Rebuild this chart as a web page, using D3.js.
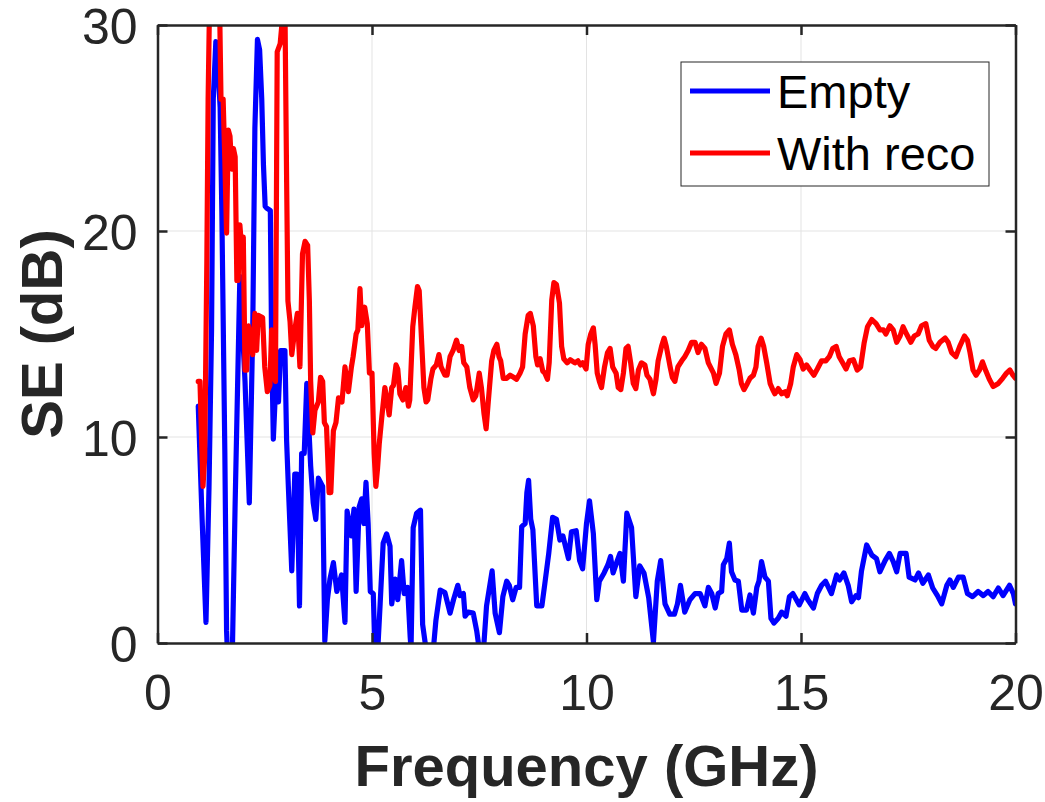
<!DOCTYPE html>
<html><head><meta charset="utf-8">
<script src="https://cdn.jsdelivr.net/npm/d3@7"></script>
<style>body{margin:0;background:#fff;} svg{display:block;}</style>
</head><body>
<svg id="chart" width="1045" height="802"></svg>
<script>
const xTicks = [0, 5, 10, 15, 20];
const yTicks = [0, 10, 20, 30];
const seriesNames = ["Empty", "With reco"];
const seriesColors = ["#0000ff", "#ff0000"];

const emptyFreq = [0.95,1.04,1.13,1.20,1.26,1.30,1.36,1.40,1.46,1.50,1.57,1.61,1.64,1.74,1.81,1.92,2.04,2.14,2.22,2.27,2.33,2.38,2.43,2.47,2.51,2.55,2.63,2.66,2.70,2.76,2.82,2.87,2.97,3.01,3.05,3.13,3.20,3.25,3.31,3.36,3.42,3.48,3.57,3.63,3.69,3.75,3.85,3.90,3.96,4.02,4.10,4.18,4.29,4.37,4.42,4.52,4.58,4.63,4.70,4.76,4.81,4.86,4.91,4.96,5.03,5.07,5.13,5.19,5.26,5.34,5.42,5.46,5.54,5.60,5.69,5.75,5.83,5.89,5.91,5.96,6.04,6.13,6.18,6.26,6.43,6.49,6.59,6.70,6.82,6.90,7.00,7.05,7.13,7.17,7.24,7.36,7.44,7.50,7.60,7.67,7.80,7.87,7.97,8.05,8.14,8.20,8.28,8.36,8.44,8.49,8.57,8.61,8.65,8.70,8.75,8.84,8.96,9.03,9.12,9.21,9.30,9.38,9.45,9.58,9.65,9.76,9.84,9.91,10.00,10.07,10.16,10.24,10.30,10.41,10.50,10.56,10.62,10.71,10.78,10.86,10.94,11.05,11.15,11.24,11.34,11.45,11.56,11.65,11.73,11.83,11.94,12.05,12.12,12.19,12.29,12.41,12.53,12.65,12.76,12.84,12.92,13.00,13.07,13.15,13.19,13.27,13.33,13.38,13.46,13.54,13.62,13.73,13.81,13.89,13.97,14.02,14.08,14.16,14.24,14.30,14.37,14.47,14.55,14.65,14.73,14.81,14.96,15.09,15.16,15.29,15.38,15.48,15.57,15.71,15.83,15.90,16.00,16.10,16.18,16.28,16.34,16.41,16.53,16.65,16.76,16.84,16.96,17.06,17.15,17.23,17.31,17.45,17.52,17.66,17.74,17.84,17.97,18.07,18.18,18.28,18.40,18.47,18.55,18.67,18.78,18.88,19.00,19.13,19.25,19.36,19.48,19.60,19.71,19.86,19.95,20.00];
const emptySE = [11.5,6.0,1.0,7.5,15.2,26.4,29.2,28.3,26.0,20.9,9.2,0.6,-1,-1,6.8,17.8,12.7,6.8,15.2,25.0,29.3,28.8,26.4,23.2,21.2,21.1,21.0,14.6,9.9,12.7,11.7,14.2,14.2,9.8,7.6,3.5,8.2,8.2,1.8,9.2,9.2,12.6,8.6,6.8,6.0,8.0,7.6,0.1,2.1,3.1,3.9,2.5,3.3,1.0,6.4,5.2,6.5,2.5,6.6,7.0,5.8,7.8,5.8,2.5,2.4,-0.5,-0.5,1.9,4.85,5.3,4.7,1.9,3.1,2.1,4.0,2.4,2.7,0.3,-0.3,5.6,6.3,6.45,0.9,-0.3,-0.3,1.1,2.57,2.45,1.45,2.1,2.8,2.3,2.4,1.3,1.5,1.45,0.6,-0.3,-0.3,1.8,3.5,1.45,0.5,2.25,3.0,2.8,2.1,2.7,2.7,5.65,5.8,7.3,7.9,6.0,5.5,1.8,1.8,2.9,4.35,6.1,6.0,5.0,5.2,4.1,5.4,5.45,4.0,3.6,5.8,6.9,5.3,2.1,3.0,3.4,3.8,4.2,3.4,3.95,4.35,3.0,6.3,5.6,2.25,3.75,3.4,2.2,0.05,3.0,4.0,1.9,1.4,1.4,1.9,2.8,1.5,2.1,2.4,2.4,1.8,2.7,2.4,1.7,2.4,2.5,3.8,4.1,4.85,3.46,3.06,3.0,1.6,1.6,2.33,1.45,2.7,3.0,3.95,3.2,3.0,1.2,0.97,1.2,1.5,1.3,2.25,2.4,1.85,2.4,2.1,1.7,2.4,2.8,3.0,2.4,3.3,3.06,3.4,2.8,2.0,2.3,2.2,3.5,4.76,4.27,4.1,3.46,4.0,4.35,3.95,3.46,4.35,4.35,3.2,3.06,3.4,2.9,3.3,2.67,2.3,1.9,2.8,3.06,2.7,3.2,3.2,2.4,2.25,2.5,2.3,2.5,2.25,2.67,2.3,2.8,2.4,1.9];

const recoFreq = [0.95,0.99,1.06,1.10,1.15,1.18,1.22,1.35,1.44,1.48,1.53,1.57,1.61,1.65,1.69,1.73,1.77,1.81,1.85,1.88,1.92,1.96,2.00,2.04,2.08,2.12,2.17,2.22,2.27,2.31,2.35,2.45,2.50,2.56,2.62,2.66,2.70,2.75,2.79,2.86,2.92,2.97,3.01,3.04,3.09,3.13,3.20,3.26,3.32,3.38,3.44,3.50,3.54,3.57,3.62,3.67,3.75,3.80,3.85,3.89,3.94,4.00,4.04,4.10,4.16,4.22,4.30,4.37,4.45,4.52,4.56,4.63,4.67,4.72,4.76,4.83,4.89,4.94,5.00,5.05,5.09,5.13,5.17,5.23,5.30,5.35,5.40,5.46,5.50,5.56,5.60,5.65,5.72,5.79,5.85,5.88,5.95,6.00,6.06,6.10,6.16,6.21,6.26,6.30,6.37,6.42,6.50,6.56,6.61,6.70,6.75,6.82,6.89,6.97,7.03,7.09,7.14,7.21,7.28,7.36,7.42,7.50,7.55,7.61,7.66,7.71,7.79,7.84,7.91,7.96,8.00,8.06,8.14,8.22,8.30,8.37,8.45,8.51,8.57,8.64,8.69,8.76,8.82,8.86,8.92,8.98,9.03,9.09,9.13,9.19,9.24,9.30,9.37,9.42,9.47,9.55,9.62,9.73,9.80,9.86,9.91,9.99,10.04,10.10,10.16,10.20,10.25,10.30,10.35,10.42,10.49,10.55,10.61,10.69,10.74,10.80,10.86,10.92,10.97,11.03,11.09,11.15,11.21,11.28,11.36,11.41,11.48,11.56,11.62,11.67,11.75,11.81,11.86,11.95,12.00,12.06,12.13,12.22,12.29,12.37,12.45,12.53,12.60,12.68,12.76,12.84,12.96,13.02,13.10,13.17,13.25,13.33,13.40,13.48,13.56,13.61,13.67,13.75,13.81,13.89,13.95,14.00,14.07,14.13,14.20,14.28,14.34,14.39,14.47,14.55,14.63,14.68,14.76,14.82,14.90,14.98,15.05,15.13,15.21,15.30,15.38,15.48,15.58,15.66,15.74,15.82,15.89,15.97,16.05,16.13,16.22,16.31,16.39,16.47,16.55,16.65,16.75,16.84,16.92,16.98,17.07,17.15,17.23,17.31,17.38,17.46,17.56,17.64,17.73,17.81,17.91,17.99,18.07,18.14,18.24,18.36,18.43,18.51,18.61,18.70,18.81,18.88,18.94,19.01,19.08,19.16,19.23,19.31,19.39,19.48,19.60,19.70,19.79,19.87,19.94,20.00];
const recoSE = [12.7,12.7,7.6,9.0,18.5,26.4,32,34,32,26.4,26.4,23.4,19.9,24.9,24.6,23.0,24.0,23.6,17.6,17.6,20.3,19.2,19.7,13.25,13.25,15.4,14.9,14.0,16.0,14.2,15.9,15.8,13.4,12.2,12.5,15.2,13.1,12.7,28.7,29.1,30.5,31,22.4,16.6,15.6,14.0,15.2,16.0,13.4,18.9,19.5,19.3,16.6,12.7,10.2,11.3,11.7,12.9,12.7,10.7,10.5,7.3,7.3,10.3,10.7,11.9,11.7,13.4,12.2,13.4,13.9,15.0,15.2,17.2,15.4,16.3,15.5,13.1,13.1,9.2,7.6,8.5,9.7,11.0,12.4,11.8,11.07,12.4,12.5,13.5,13.3,12.1,11.8,12.4,11.5,11.8,15.35,16.3,17.3,17.1,14.5,12.4,11.7,11.8,12.8,13.3,13.5,14.0,13.4,13.0,13.0,13.9,14.2,14.7,14.2,14.4,13.6,13.4,12.4,11.8,12.0,13.1,12.4,11.15,10.4,11.7,13.7,14.2,14.5,13.9,13.7,12.85,12.85,13.0,12.9,12.8,13.1,13.4,15.0,15.9,16.0,15.4,13.9,13.5,13.8,13.2,13.1,12.8,13.6,16.65,17.5,17.4,16.5,14.4,13.8,13.6,13.75,13.6,13.7,13.5,13.6,13.3,14.5,15.0,15.3,14.5,13.1,12.7,12.4,13.4,14.1,14.3,13.4,13.1,12.4,12.3,13.1,14.3,14.4,13.6,12.6,12.35,13.25,13.6,13.5,13.0,12.8,12.1,12.8,13.7,14.4,14.8,14.4,13.4,12.9,12.7,13.4,13.7,13.9,14.2,14.6,14.6,14.1,14.5,14.3,13.6,13.1,12.6,13.1,14.4,15.0,15.2,14.5,14.0,13.25,12.6,12.3,12.6,12.85,13.0,13.4,14.4,14.8,14.4,13.6,12.6,12.3,12.1,12.35,12.1,12.2,12.0,12.6,13.4,14.0,13.75,13.3,13.5,13.25,13.0,13.3,13.7,13.7,13.9,14.3,14.4,13.9,13.6,13.3,13.7,13.75,13.25,13.4,14.55,15.35,15.7,15.5,15.2,15.2,15.0,15.4,15.2,14.6,14.9,15.35,15.0,14.6,14.9,15.0,15.4,15.5,14.7,14.4,14.3,14.6,14.8,14.6,14.1,13.9,14.4,14.9,14.7,14.1,13.25,13.0,13.25,13.65,13.2,12.8,12.45,12.6,12.85,13.1,13.25,13.0,12.85];

const svg = d3.select("#chart");
const L = 157.5, R = 1015.5, T = 25, B = 643;
const x = d3.scaleLinear().domain([0, 20]).range([L, R]);
const y = d3.scaleLinear().domain([0, 30]).range([B, T]);
const axisColor = "#262626";
const font = "'Liberation Sans', Arial, Helvetica, sans-serif";

svg.append("defs").append("clipPath").attr("id", "clip")
  .append("rect").attr("x", L).attr("y", T).attr("width", R - L).attr("height", B - T);

// grid
svg.append("g").selectAll("line").data(xTicks.slice(1, -1)).join("line")
  .attr("x1", d => x(d)).attr("x2", d => x(d)).attr("y1", T).attr("y2", B)
  .attr("stroke", "#e3e3e3").attr("stroke-width", 1);
svg.append("g").selectAll("line").data(yTicks.slice(1, -1)).join("line")
  .attr("y1", d => y(d)).attr("y2", d => y(d)).attr("x1", L).attr("x2", R)
  .attr("stroke", "#e3e3e3").attr("stroke-width", 1);

// lines
const seriesData = [
  d3.zip(emptyFreq, emptySE),
  d3.zip(recoFreq, recoSE)
];
const line = d3.line().x(d => x(d[0])).y(d => y(d[1]));
const gLines = svg.append("g").attr("clip-path", "url(#clip)");
seriesData.forEach((s, i) => {
  gLines.append("path").datum(s).attr("d", line)
    .attr("fill", "none").attr("stroke", seriesColors[i])
    .attr("stroke-width", 5.2).attr("stroke-linejoin", "round").attr("stroke-linecap", "round");
});

// axes with inward ticks
const tickLen = 10;
const axB = svg.append("g").attr("transform", `translate(0,${B})`)
  .call(d3.axisBottom(x).tickValues(xTicks).tickSize(-tickLen).tickPadding(31).tickSizeOuter(0));
const axT = svg.append("g").attr("transform", `translate(0,${T})`)
  .call(d3.axisTop(x).tickValues(xTicks).tickSize(-tickLen).tickFormat("").tickSizeOuter(0));
const axL = svg.append("g").attr("transform", `translate(${L},0)`)
  .call(d3.axisLeft(y).tickValues(yTicks).tickSize(-tickLen).tickPadding(20).tickSizeOuter(0));
const axR = svg.append("g").attr("transform", `translate(${R},0)`)
  .call(d3.axisRight(y).tickValues(yTicks).tickSize(-tickLen).tickFormat("").tickSizeOuter(0));
[axB, axT, axL, axR].forEach(a => {
  a.select(".domain").attr("stroke", axisColor).attr("stroke-width", 2.5);
  a.selectAll(".tick line").attr("stroke", axisColor).attr("stroke-width", 2.5);
  a.selectAll("text").attr("fill", axisColor).style("font-family", font).style("font-size", "50px");
});
axB.selectAll("text").attr("dy", "0.71em");
axL.selectAll("text").attr("dy", "0.36em");

// axis titles
svg.append("text").attr("x", (L + R) / 2).attr("y", 786).attr("text-anchor", "middle")
  .attr("fill", axisColor).style("font-family", font).style("font-size", "58px").style("font-weight", "bold")
  .text("Frequency (GHz)");
svg.append("text").attr("transform", `translate(62,${(T + B) / 2}) rotate(-90)`).attr("text-anchor", "middle")
  .attr("fill", axisColor).style("font-family", font).style("font-size", "58px").style("font-weight", "bold")
  .text("SE (dB)");

// legend
const lg = svg.append("g");
lg.append("rect").attr("x", 681).attr("y", 62).attr("width", 308).attr("height", 124)
  .attr("fill", "#fff").attr("stroke", axisColor).attr("stroke-width", 1);
seriesNames.forEach((n, i) => {
  const yy = 91 + i * 62;
  lg.append("line").attr("x1", 690).attr("x2", 770).attr("y1", yy).attr("y2", yy)
    .attr("stroke", seriesColors[i]).attr("stroke-width", 5.2);
  lg.append("text").attr("x", 777).attr("y", yy).attr("dy", "0.36em")
    .attr("fill", "#000").style("font-family", font).style("font-size", "47px").text(n);
});
</script>
</body></html>
